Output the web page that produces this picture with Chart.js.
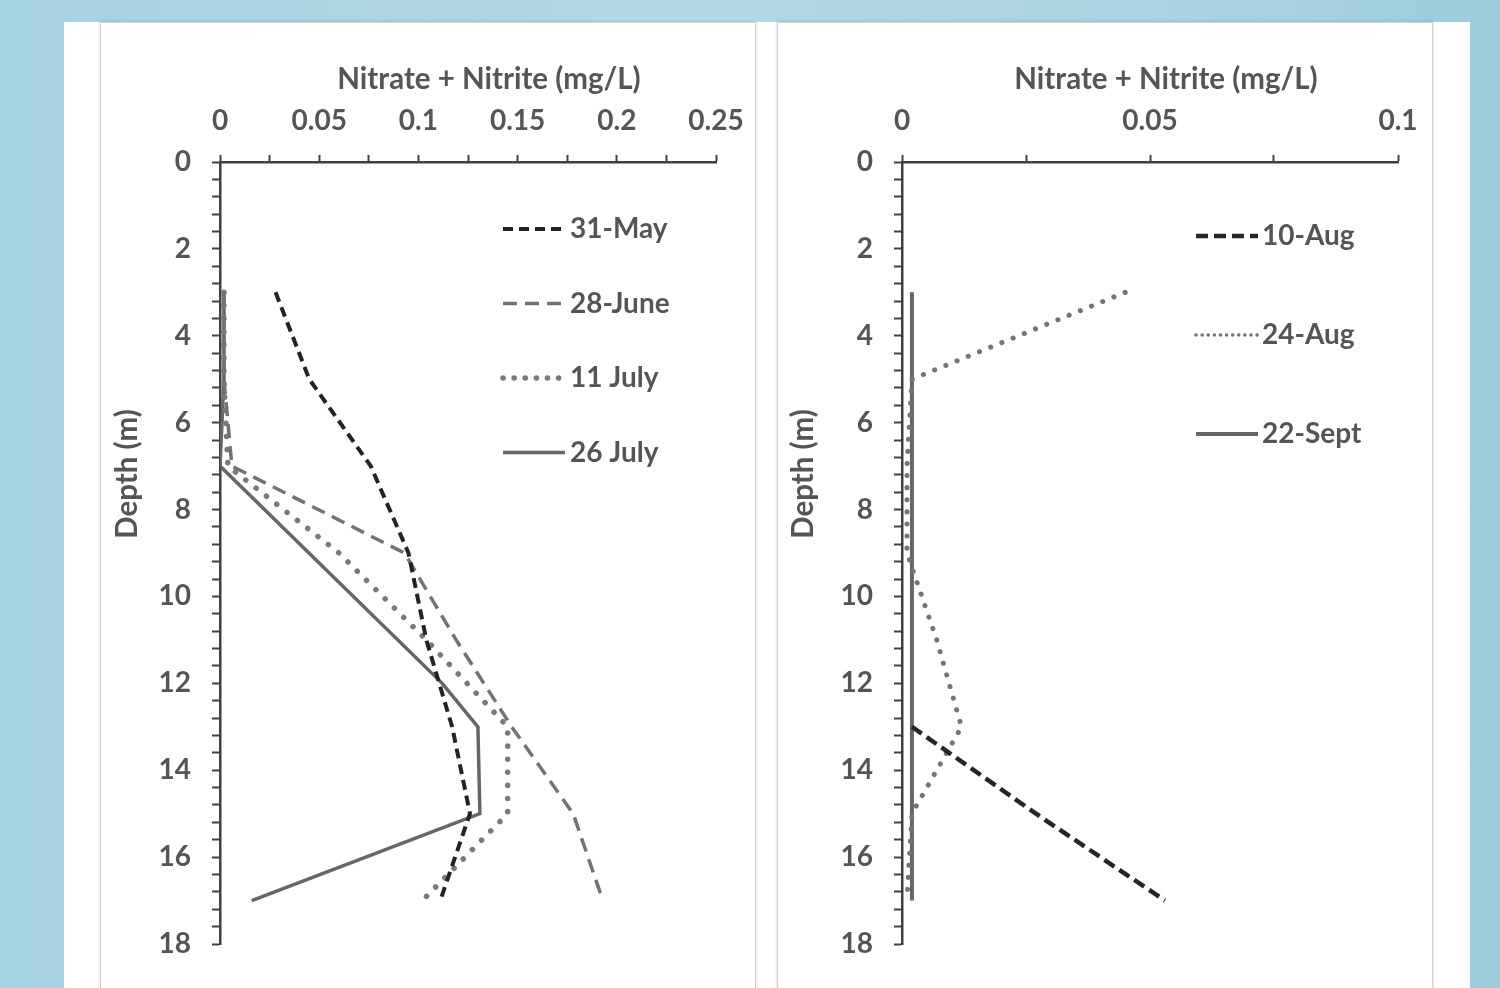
<!DOCTYPE html>
<html>
<head>
<meta charset="utf-8">
<title>Nitrate + Nitrite depth profiles</title>
<script src="https://cdn.jsdelivr.net/npm/chart.js@4.4.1/dist/chart.umd.min.js"></script>
<style>
  html, body { margin: 0; padding: 0; }
  body {
    width: 1500px; height: 988px; overflow: hidden; position: relative;
    background: linear-gradient(90deg, #a5d2e0 0%, #b3d9e4 45%, #a9d3e1 80%, #9ccbdc 100%);
  }
  #panel { position: absolute; left: 64px; top: 22px; width: 1406px; height: 970px; background: #fff; }
  .frame {
    position: absolute; top: 22px; width: 656px; height: 980px; box-sizing: border-box;
    border: 1.5px solid #d2d2d2; box-shadow: 0 0 3px rgba(0,0,0,0.18); background: #fff;
  }
  canvas { position: absolute; top: 22px; }
</style>
</head>
<body>
<div id="panel"></div>
<div class="frame" style="left:100px"></div>
<div class="frame" style="left:777px"></div>
<canvas id="leftChart" width="656" height="966" style="left:100px"></canvas>
<canvas id="rightChart" width="656" height="966" style="left:777px"></canvas>
<script>
// sampling depths (m)
const depths = [3, 5, 7, 9, 11, 13, 15, 17];
const depthsJuly26 = [3, 5, 7, 12, 13, 15, 17];
const depthsAug10 = [13, 15, 17];

// nitrate + nitrite (mg/L), left panel
const may31 = [0.028, 0.045, 0.076, 0.095, 0.104, 0.117, 0.126, 0.111];
const june28 = [0.002, 0.002, 0.006, 0.093, 0.119, 0.147, 0.178, 0.193];
const july11 = [0.002, 0.002, 0.004, 0.060, 0.104, 0.145, 0.145, 0.102];
const july26 = [0.002, 0.002, 0.000, 0.112, 0.130, 0.131, 0.016];

// right panel
const aug10 = [0.002, 0.027, 0.053];
const aug24 = [0.045, 0.002, 0.001, 0.001, 0.007, 0.012, 0.002, 0.001];
const sept22 = [0.002, 0.002, 0.002, 0.002, 0.002, 0.002, 0.002, 0.002];

// tick labels
const leftXLabels = [0, 0.05, 0.1, 0.15, 0.2, 0.25];
const rightXLabels = [0, 0.05, 0.1];
const depthLabels = [0, 2, 4, 6, 8, 10, 12, 14, 16, 18];

const textGray = '#555555';
const axisGray = '#404040';
const font = 'Lato';

function pts(xs, ys) {
  return xs.map((v, i) => ({ x: v, y: ys[i] }));
}

function isIn(list, v) {
  return list.some(t => Math.abs(t - v) < 1e-6);
}

// draws axis titles + the legend inside the plot, like the excel original
const panelText = {
  id: 'panelText',
  afterDraw(chart, args, o) {
    const ctx = chart.ctx;
    ctx.save();
    ctx.fillStyle = textGray;
    ctx.font = 'bold 29.5px ' + font;
    ctx.textAlign = 'center';
    ctx.textBaseline = 'middle';
    ctx.fillText(o.xTitle, o.xTitleX, o.xTitleY);
    ctx.save();
    ctx.translate(o.yTitleX, o.yTitleY);
    ctx.rotate(-Math.PI / 2);
    ctx.fillText(o.yTitle, 0, 0);
    ctx.restore();

    ctx.font = 'bold 28px ' + font;
    chart.data.datasets.forEach((ds, i) => {
      const y = o.legendY + i * o.legendStep;
      ctx.save();
      ctx.strokeStyle = ds.borderColor;
      ctx.lineWidth = ds.legendWidth || ds.borderWidth;
      ctx.setLineDash(ds.legendDash || ds.borderDash || []);
      ctx.lineCap = ds.borderCapStyle || 'butt';
      ctx.beginPath();
      ctx.moveTo(o.legendX, y);
      ctx.lineTo(o.legendX + o.legendLen, y);
      ctx.stroke();
      ctx.restore();
      ctx.textAlign = 'left';
      ctx.fillText(ds.label, o.legendTextX, y);
    });
    ctx.restore();
  }
};

function makeConfig(datasets, xMax, xMinor, xLabels, yWidth, padRight, txt) {
  return {
    type: 'scatter',
    data: { datasets: datasets },
    options: {
      responsive: false,
      animation: false,
      events: [],
      layout: { padding: { left: 0, top: 0, right: padRight, bottom: 44 } },
      elements: { point: { radius: 0 }, line: { tension: 0 } },
      plugins: {
        legend: { display: false },
        tooltip: { enabled: false },
        panelText: txt
      },
      scales: {
        x: {
          type: 'linear',
          position: 'top',
          min: 0,
          max: xMax,
          afterBuildTicks: s => {
            const t = [];
            const n = Math.round(xMax / xMinor);
            for (let i = 0; i <= n; i++) t.push({ value: Math.round(i * xMinor * 10000) / 10000 });
            s.ticks = t;
          },
          afterFit: s => { s.height = 140; s.paddingLeft = 0; s.paddingRight = 0; },
          ticks: {
            autoSkip: false, maxRotation: 0, minRotation: 0, padding: 17,
            color: textGray, font: { family: font, size: 28, weight: 'bold' },
            callback: v => isIn(xLabels, v) ? String(v) : ''
          },
          grid: { drawOnChartArea: false, drawTicks: true, tickLength: 7, tickColor: axisGray, tickWidth: 2 },
          border: { display: true, color: axisGray, width: 2.5 }
        },
        y: {
          type: 'linear',
          reverse: true,
          min: 0,
          max: 18,
          afterBuildTicks: s => {
            const t = [];
            for (let i = 0; i <= 45; i++) t.push({ value: Math.round(i * 0.4 * 10) / 10 });
            s.ticks = t;
          },
          afterFit: s => { s.width = yWidth; s.paddingTop = 0; s.paddingBottom = 0; },
          ticks: {
            autoSkip: false, padding: 21,
            color: textGray, font: { family: font, size: 28, weight: 'bold' },
            callback: v => isIn(depthLabels, v) ? String(v) : ''
          },
          grid: { drawOnChartArea: false, drawTicks: true, tickLength: 8, tickColor: axisGray, tickWidth: 2 },
          border: { display: true, color: axisGray, width: 2.5 }
        }
      }
    },
    plugins: [panelText]
  };
}

const leftSets = [
  { label: '31-May', data: pts(may31, depths), showLine: true, borderColor: '#232323', borderWidth: 4, borderDash: [10, 6] },
  { label: '28-June', data: pts(june28, depths), showLine: true, borderColor: '#737373', borderWidth: 3.5, borderDash: [14, 8] },
  { label: '11 July', data: pts(july11, depths), showLine: true, borderColor: '#7a7a7a', borderWidth: 5.5, borderDash: [0.1, 13], borderCapStyle: 'round', legendDash: [0.1, 11] },
  { label: '26 July', data: pts(july26, depthsJuly26), showLine: true, borderColor: '#666666', borderWidth: 3.5 }
];

const rightSets = [
  { label: '10-Aug', data: pts(aug10, depthsAug10), showLine: true, borderColor: '#262626', borderWidth: 4.5, borderDash: [12, 6] },
  { label: '24-Aug', data: pts(aug24, depths), showLine: true, borderColor: '#747474', borderWidth: 5, borderDash: [0.1, 12], borderCapStyle: 'round', legendDash: [0.1, 6], legendWidth: 3.5 },
  { label: '22-Sept', data: pts(sept22, depths), showLine: true, borderColor: '#666666', borderWidth: 4 }
];

new Chart(document.getElementById('leftChart'), makeConfig(leftSets, 0.25, 0.025, leftXLabels, 120, 40, {
  xTitle: 'Nitrate + Nitrite (mg/L)', xTitleX: 389, xTitleY: 57,
  yTitle: 'Depth (m)', yTitleX: 27, yTitleY: 452,
  legendX: 403, legendLen: 62, legendTextX: 470, legendY: 207, legendStep: 74.5
}));

new Chart(document.getElementById('rightChart'), makeConfig(rightSets, 0.1, 0.025, rightXLabels, 125, 35, {
  xTitle: 'Nitrate + Nitrite (mg/L)', xTitleX: 389, xTitleY: 57,
  yTitle: 'Depth (m)', yTitleX: 26, yTitleY: 452,
  legendX: 419, legendLen: 62, legendTextX: 485, legendY: 214, legendStep: 99
}));
</script>
</body>
</html>
